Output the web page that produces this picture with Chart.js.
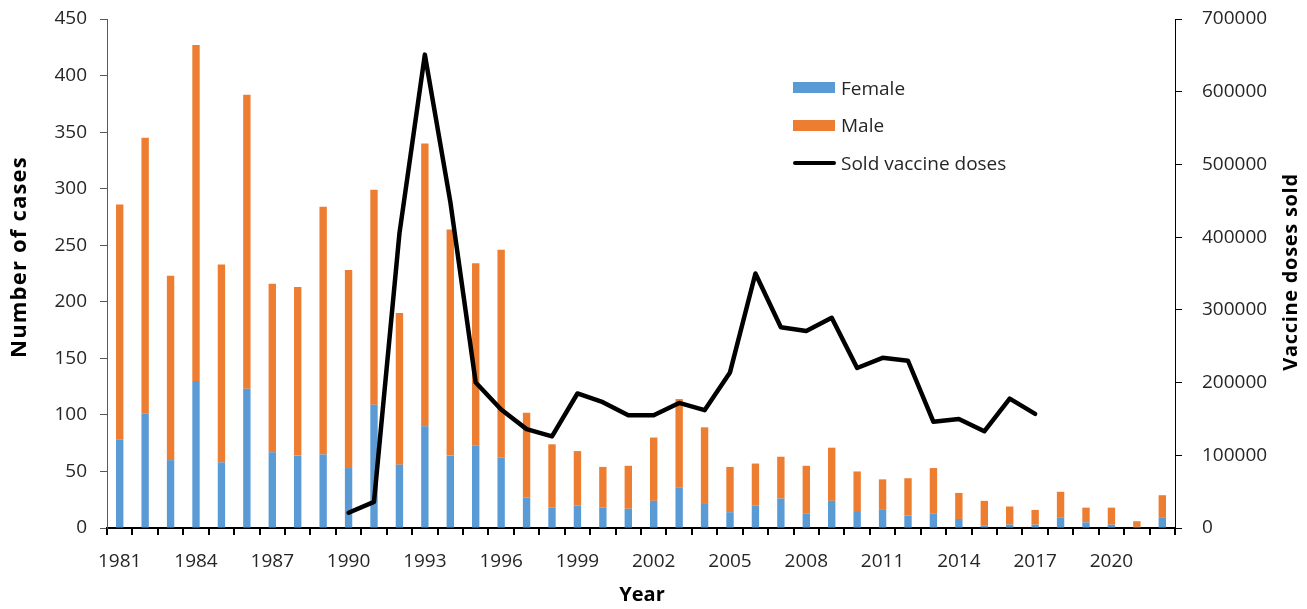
<!DOCTYPE html>
<html>
<head>
<meta charset="utf-8">
<script src="https://cdn.jsdelivr.net/npm/chart.js@4"></script>
<style>
  body { margin: 0; background: #fff; }
  #wrap { position: relative; width: 1307px; height: 609px; }
  #legend { position: absolute; left: 793px; top: 69px; font-family: "Open Sans", sans-serif; font-size: 19px; color: #262626; }
  .row { display: flex; align-items: center; height: 37.5px; }
  .box { width: 42px; height: 11px; margin-right: 6px; }
  .ln { width: 43px; height: 4px; border-radius: 2px; background: #000; margin-right: 5px; }
</style>
</head>
<body>
<div id="wrap">
  <canvas id="chart" width="1307" height="609"></canvas>
  <div id="legend">
    <div class="row"><span class="box" style="background:#5B9BD5"></span>Female</div>
    <div class="row"><span class="box" style="background:#ED7D31"></span>Male</div>
    <div class="row"><span class="ln"></span>Sold vaccine doses</div>
  </div>
</div>
<script>
// data
const years = [1981, 1982, 1983, 1984, 1985, 1986, 1987, 1988, 1989, 1990,
  1991, 1992, 1993, 1994, 1995, 1996, 1997, 1998, 1999, 2000,
  2001, 2002, 2003, 2004, 2005, 2006, 2007, 2008, 2009, 2010,
  2011, 2012, 2013, 2014, 2015, 2016, 2017, 2018, 2019, 2020,
  2021, 2022];

const female = [78, 101, 60, 130, 58, 123, 67, 64, 65, 53,
  109, 56, 90, 64, 73, 62, 27, 18, 20, 18,
  17, 24, 36, 22, 14, 20, 26, 13, 24, 15,
  16, 11, 13, 8, 2, 3, 3, 9, 5, 3,
  1, 9];

const male = [208, 244, 163, 297, 175, 260, 149, 149, 219, 175,
  190, 134, 250, 200, 161, 184, 75, 56, 48, 36,
  38, 56, 78, 67, 40, 37, 37, 42, 47, 35,
  27, 33, 40, 23, 22, 16, 13, 23, 13, 15,
  5, 20];

const vaccineDoses = [null, null, null, null, null, null, null, null, null, 21000,
  36000, 405000, 651000, 449000, 200000, 163000, 136000, 126000, 185000, 173000,
  155000, 155000, 172000, 162000, 214000, 350000, 276000, 271000, 289000, 220000,
  234000, 230000, 146000, 150000, 133000, 178000, 157000, null, null, null,
  null, null];

const casesTicks = [0, 450, 50];
const dosesTicks = [0, 700000, 100000];

const textColor = '#262626';
const tickFont = { family: 'Open Sans', size: 19 };

// axis titles drawn by hand (right one reads bottom-to-top like the original)
const axisTitles = {
  id: 'axisTitles',
  afterDraw(chart) {
    const ctx = chart.ctx;
    ctx.save();
    ctx.fillStyle = '#000';
    ctx.textAlign = 'center';
    ctx.textBaseline = 'middle';

    ctx.save();
    ctx.translate(20, 257);
    ctx.rotate(-Math.PI / 2);
    ctx.font = 'bold 22px "Open Sans"';
    ctx.letterSpacing = '1.2px';
    ctx.fillText('Number of cases', 0, 0);
    ctx.restore();

    ctx.font = 'bold 20px "Open Sans"';
    ctx.save();
    ctx.translate(1291, 272);
    ctx.rotate(-Math.PI / 2);
    ctx.letterSpacing = '0.7px';
    ctx.fillText('Vaccine doses sold', 0, 0);
    ctx.restore();

    ctx.fillText('Year', 642, 595);
    ctx.restore();
  }
};

// keep the tick label padding from pushing the plot area down
function fixWidth(w) {
  return scale => {
    scale.width = w;
    scale.paddingTop = 0;
    scale.paddingBottom = 0;
  };
}

new Chart(document.getElementById('chart'), {
  type: 'bar',
  data: {
    labels: years,
    datasets: [
      {
        type: 'line',
        label: 'Sold vaccine doses',
        data: vaccineDoses,
        yAxisID: 'y1',
        borderColor: '#000',
        borderWidth: 4.5,
        pointRadius: 0,
        tension: 0,
        spanGaps: false,
        borderJoinStyle: 'round',
        borderCapStyle: 'round',
        order: 0
      },
      {
        label: 'Female',
        data: female,
        backgroundColor: '#5B9BD5',
        yAxisID: 'y',
        categoryPercentage: 1,
        barPercentage: 0.29,
        order: 1
      },
      {
        label: 'Male',
        data: male,
        backgroundColor: '#ED7D31',
        yAxisID: 'y',
        categoryPercentage: 1,
        barPercentage: 0.29,
        order: 2
      }
    ]
  },
  options: {
    responsive: false,
    animation: false,
    layout: { padding: { top: 19, left: 0, right: 0, bottom: 0 } },
    plugins: { legend: { display: false }, tooltip: { enabled: false } },
    scales: {
      x: {
        stacked: true,
        afterFit(scale) { scale.height = 81; scale.paddingLeft = 0; scale.paddingRight = 0; },
        grid: { display: true, drawOnChartArea: false, offset: true, tickLength: 7, color: '#000', lineWidth: 2 },
        border: { display: true, color: '#000', width: 2 },
        ticks: {
          autoSkip: false, maxRotation: 0, padding: 15,
          color: textColor, font: tickFont,
          callback: (v, i) => (i % 3 === 0 ? String(years[i]) : '')
        }
      },
      y: {
        stacked: true,
        position: 'left',
        min: casesTicks[0], max: casesTicks[1],
        afterFit: fixWidth(107),
        grid: { display: true, drawOnChartArea: false, tickLength: 7, color: '#595959' },
        border: { display: true, color: '#595959', width: 1 },
        ticks: { stepSize: casesTicks[2], padding: 13, color: textColor, font: tickFont }
      },
      y1: {
        position: 'right',
        min: dosesTicks[0], max: dosesTicks[1],
        afterFit: fixWidth(132),
        grid: { display: true, drawOnChartArea: false, tickLength: 7, color: '#000' },
        border: { display: true, color: '#000', width: 1 },
        ticks: { stepSize: dosesTicks[2], padding: 20, color: textColor, font: tickFont,
          callback: v => String(v) }
      }
    }
  },
  plugins: [axisTitles]
});
</script>
</body>
</html>
